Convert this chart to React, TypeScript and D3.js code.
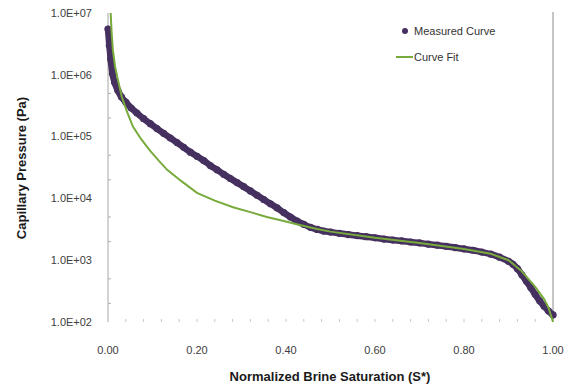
import React, { useEffect, useRef } from 'react';
import * as d3 from 'd3';

// Measured curve (normalized brine saturation, capillary pressure in Pa)
const measuredS = [
  0.000, 0.003, 0.006, 0.010, 0.015, 0.022, 0.030, 0.040, 0.052, 0.065,
  0.080, 0.095, 0.110, 0.125, 0.140, 0.155, 0.170, 0.185, 0.200, 0.215,
  0.230, 0.245, 0.260, 0.275, 0.290, 0.305, 0.320, 0.335, 0.350, 0.365,
  0.380, 0.395, 0.410, 0.425, 0.440, 0.455, 0.470, 0.485, 0.500, 0.520,
  0.540, 0.560, 0.580, 0.600, 0.620, 0.640, 0.660, 0.680, 0.700, 0.720,
  0.740, 0.760, 0.780, 0.800, 0.820, 0.840, 0.860, 0.880, 0.900, 0.910,
  0.920, 0.930, 0.940, 0.950, 0.960, 0.970, 0.980, 0.990, 1.000
];
const measuredP = [
  5.5e6, 3.0e6, 1.8e6, 1.05e6, 7.5e5, 5.6e5, 4.4e5, 3.6e5, 2.9e5, 2.4e5,
  1.95e5, 1.62e5, 1.35e5, 1.13e5, 9.5e4, 8.0e4, 6.7e4, 5.6e4, 4.8e4, 4.1e4,
  3.4e4, 2.9e4, 2.45e4, 2.1e4, 1.8e4, 1.55e4, 1.32e4, 1.12e4, 9.6e3, 8.2e3,
  7.0e3, 5.9e3, 5.0e3, 4.3e3, 3.8e3, 3.4e3, 3.15e3, 2.95e3, 2.85e3, 2.72e3,
  2.6e3, 2.5e3, 2.4e3, 2.3e3, 2.2e3, 2.12e3, 2.05e3, 1.97e3, 1.9e3, 1.82e3,
  1.75e3, 1.68e3, 1.6e3, 1.52e3, 1.45e3, 1.35e3, 1.25e3, 1.12e3, 960, 860,
  730, 580, 460, 360, 280, 220, 180, 150, 130
];

// Curve fit
const fitS = [
  0.006, 0.008, 0.011, 0.016, 0.022, 0.031, 0.042, 0.056, 0.075, 0.094,
  0.115, 0.133, 0.165, 0.200, 0.240, 0.281, 0.320, 0.357, 0.395, 0.431,
  0.470, 0.500, 0.600, 0.700, 0.800, 0.860, 0.900, 0.930, 0.960, 0.980,
  0.990, 1.000
];
const fitP = [
  1.0e7, 5.0e6, 2.5e6, 1.35e6, 8.5e5, 4.4e5, 2.6e5, 1.45e5, 9.0e4, 6.0e4,
  4.0e4, 2.9e4, 1.9e4, 1.23e4, 9.2e3, 7.2e3, 6.0e3, 5.0e3, 4.3e3, 3.7e3,
  3.2e3, 2.9e3, 2.3e3, 1.9e3, 1.52e3, 1.27e3, 1.0e3, 660, 370, 235,
  170, 100
];

const xTicks = [0, 0.2, 0.4, 0.6, 0.8, 1.0];
const yTicks = [1e2, 1e3, 1e4, 1e5, 1e6, 1e7];
const yTickLabels = ['1.0E+02', '1.0E+03', '1.0E+04', '1.0E+05', '1.0E+06', '1.0E+07'];

const PURPLE = '#45305f';
const GREEN = '#78aa3c';

export default function App() {
  const ref = useRef<SVGSVGElement>(null);

  useEffect(() => {
    document.body.style.margin = '0';
    if (!ref.current) return;
    const svg = d3.select(ref.current);
    svg.selectAll('*').remove();

    const x = d3.scaleLinear().domain([0, 1]).range([108, 553]);
    const y = d3.scaleLog().domain([1e2, 1e7]).range([322, 13]);

    const font = "'Liberation Sans', Arial, sans-serif";

    // left axis line
    svg.append('line')
      .attr('x1', x(0)).attr('x2', x(0))
      .attr('y1', y(1e7)).attr('y2', y(1e2))
      .attr('stroke', '#a6a6a6');

    // right border line
    svg.append('line')
      .attr('x1', x(1)).attr('x2', x(1))
      .attr('y1', y(1e7) - 1).attr('y2', y(1e2))
      .attr('stroke', '#8c8c8c');

    // minor ticks on the left axis
    const minor: number[] = [];
    for (let k = 2; k < 7; k++) {
      [2, 5].forEach(m => minor.push(m * Math.pow(10, k)));
    }
    svg.selectAll('.ymin')
      .data(minor)
      .enter()
      .append('line')
      .attr('x1', x(0)).attr('x2', x(0) + 3)
      .attr('y1', d => y(d)).attr('y2', d => y(d))
      .attr('stroke', '#b0b0b0');

    // faint minor ticks along the bottom
    svg.selectAll('.xmin')
      .data(d3.range(1, 25).map(i => i * 0.04))
      .enter()
      .append('line')
      .attr('x1', d => x(d)).attr('x2', d => x(d))
      .attr('y1', y(1e2) - 3).attr('y2', y(1e2))
      .attr('stroke', '#c8c8c8');

    // y tick labels
    svg.selectAll('.ylab')
      .data(yTicks)
      .enter()
      .append('text')
      .attr('x', 92)
      .attr('y', d => y(d))
      .attr('dy', '0.35em')
      .attr('text-anchor', 'end')
      .style('font-family', font)
      .style('font-size', '11px')
      .style('fill', '#404040')
      .text((d, i) => yTickLabels[i]);

    // x tick labels
    svg.selectAll('.xlab')
      .data(xTicks)
      .enter()
      .append('text')
      .attr('x', d => x(d))
      .attr('y', 354)
      .attr('text-anchor', 'middle')
      .style('font-family', font)
      .style('font-size', '11px')
      .style('fill', '#404040')
      .text(d => d.toFixed(2));

    // axis titles
    svg.append('text')
      .attr('x', 330)
      .attr('y', 381)
      .attr('text-anchor', 'middle')
      .style('font-family', font)
      .style('font-size', '13px')
      .style('font-weight', 'bold')
      .style('fill', '#1a1a1a')
      .text('Normalized Brine Saturation (S*)');

    svg.append('text')
      .attr('transform', 'translate(26,168) rotate(-90)')
      .attr('text-anchor', 'middle')
      .style('font-family', font)
      .style('font-size', '13px')
      .style('font-weight', 'bold')
      .style('fill', '#1a1a1a')
      .text('Capillary Pressure (Pa)');

    const measured = measuredS.map((s, i) => ({ s, p: measuredP[i] }));
    const fit = fitS.map((s, i) => ({ s, p: fitP[i] }));

    const line = d3.line<{ s: number; p: number }>()
      .x(d => x(d.s))
      .y(d => y(d.p));

    // measured: thick band plus markers
    svg.append('path')
      .datum(measured)
      .attr('d', line.curve(d3.curveMonotoneX))
      .attr('fill', 'none')
      .attr('stroke', PURPLE)
      .attr('stroke-width', 6.5)
      .attr('stroke-linejoin', 'round')
      .attr('stroke-linecap', 'round');

    svg.selectAll('.pt')
      .data(measured)
      .enter()
      .append('circle')
      .attr('cx', d => x(d.s))
      .attr('cy', d => y(d.p))
      .attr('r', 3.6)
      .attr('fill', PURPLE);

    // curve fit
    svg.append('path')
      .datum(fit)
      .attr('d', line.curve(d3.curveLinear))
      .attr('fill', 'none')
      .attr('stroke', GREEN)
      .attr('stroke-width', 2);

    // legend
    const lg = svg.append('g');
    lg.append('circle')
      .attr('cx', 405).attr('cy', 31).attr('r', 3)
      .attr('fill', PURPLE);
    lg.append('text')
      .attr('x', 414).attr('y', 31).attr('dy', '0.35em')
      .style('font-family', font)
      .style('font-size', '11px')
      .style('fill', '#333')
      .text('Measured Curve');
    lg.append('line')
      .attr('x1', 396).attr('x2', 413)
      .attr('y1', 57).attr('y2', 57)
      .attr('stroke', GREEN).attr('stroke-width', 2);
    lg.append('text')
      .attr('x', 414).attr('y', 57).attr('dy', '0.35em')
      .style('font-family', font)
      .style('font-size', '11px')
      .style('fill', '#333')
      .text('Curve Fit');
  }, []);

  return (
    <svg ref={ref} width={567} height={384} style={{ display: 'block', background: '#fff' }} />
  );
}
